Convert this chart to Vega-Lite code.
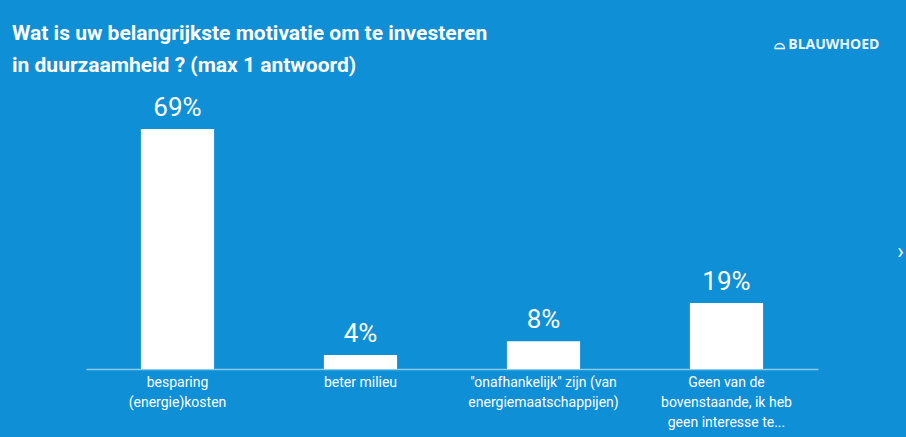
{
  "$schema": "https://vega.github.io/schema/vega-lite/v6.json",
  "width": 732,
  "height": 240,
  "autosize": "none",
  "padding": {"left": 86, "top": 129, "right": 88, "bottom": 68},
  "background": "#0e8fd6",
  "config": {"view": {"stroke": null}, "font": "Roboto"},
  "title": {
    "text": ["Wat is uw belangrijkste motivatie om te investeren", "in duurzaamheid ? (max 1 antwoord)"],
    "anchor": "start",
    "frame": "group",
    "color": "#ffffff",
    "font": "Roboto",
    "fontSize": 21,
    "fontWeight": "bold",
    "lineHeight": 32,
    "dx": -74,
    "offset": 0,
    "dy": 39
  },
  "data": {
    "values": [
      {"antwoord": "besparing (energie)kosten", "pct": 0.69},
      {"antwoord": "beter milieu", "pct": 0.04},
      {"antwoord": "\"onafhankelijk\" zijn (van energiemaatschappijen)", "pct": 0.08},
      {"antwoord": "Geen van de bovenstaande, ik heb geen interesse te...", "pct": 0.19}
    ]
  },
  "encoding": {
    "x": {
      "field": "antwoord",
      "type": "nominal",
      "sort": null,
      "scale": {"paddingInner": 0.6, "paddingOuter": 0.3},
      "axis": {
        "title": "›",
        "titleColor": "#ffffff",
        "titleFontSize": 22,
        "titleFontWeight": "normal",
        "titleX": 814,
        "titleY": -128,
        "labelAngle": 0,
        "labelColor": "#ffffff",
        "labelFont": "Roboto",
        "labelFontSize": 14,
        "labelLineHeight": 20,
        "labelPadding": 6,
        "labelBaseline": "top",
        "ticks": false,
        "domainColor": "#8ccbf0",
        "domainWidth": 1.5,
        "labelExpr": "datum.value == 'besparing (energie)kosten' ? ['besparing', '(energie)kosten'] : datum.value == 'beter milieu' ? ['beter milieu'] : datum.value == 'Geen van de bovenstaande, ik heb geen interesse te...' ? ['Geen van de', 'bovenstaande, ik heb', 'geen interesse te...'] : ['\"onafhankelijk\" zijn (van', 'energiemaatschappijen)']"
      }
    },
    "y": {
      "field": "pct",
      "type": "quantitative",
      "scale": {"domain": [0, 0.69]},
      "axis": {
        "orient": "right",
        "title": "⌓ BLAUWHOED",
        "titleAngle": 0,
        "titleColor": "#eef7fd",
        "titleFontSize": 14,
        "titleFontWeight": "bold",
        "titleFont": "Open Sans",
        "titleAlign": "center",
        "titleBaseline": "middle",
        "titleX": 8,
        "titleY": -85,
        "labels": false,
        "ticks": false,
        "domain": false,
        "grid": false
      }
    }
  },
  "layer": [
    {"mark": {"type": "bar", "color": "#ffffff"}},
    {
      "mark": {"type": "text", "baseline": "bottom", "dy": -8, "fontSize": 26, "color": "#ffffff", "font": "Roboto"},
      "encoding": {"text": {"field": "pct", "type": "quantitative", "format": ".0%"}}
    }
  ]
}
